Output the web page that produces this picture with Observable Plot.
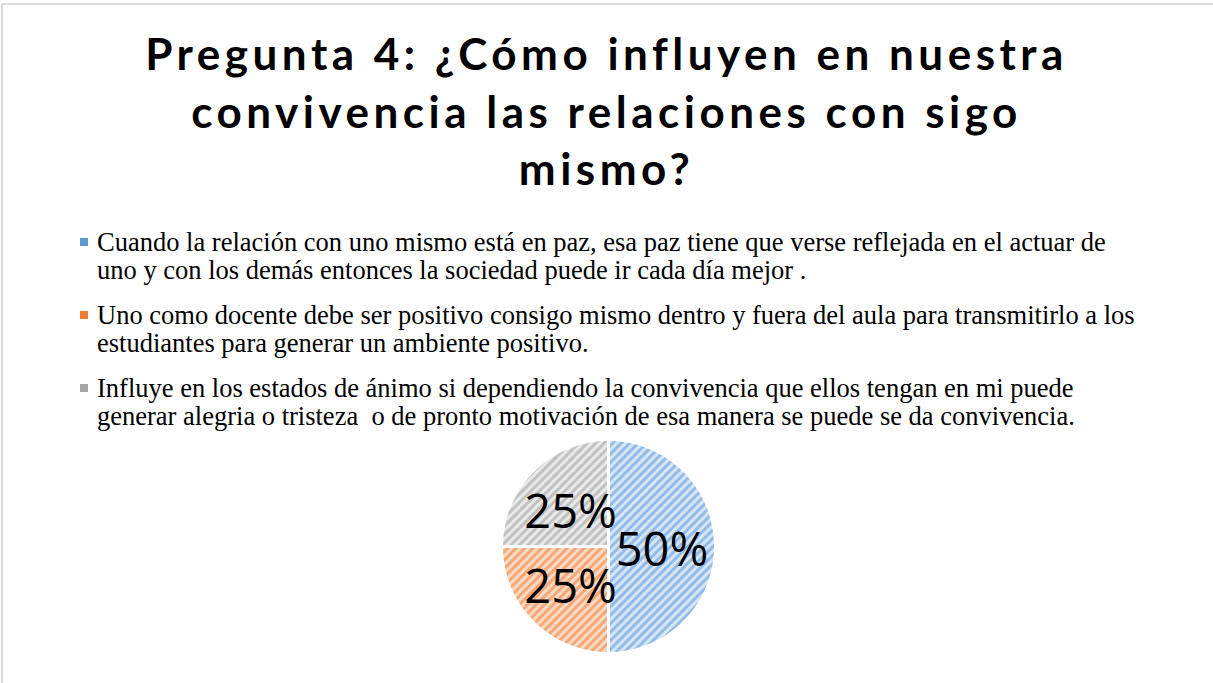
<!DOCTYPE html>
<html>
<head>
<meta charset="utf-8">
<script src="https://cdn.jsdelivr.net/npm/d3@7"></script>
<script src="https://cdn.jsdelivr.net/npm/@observablehq/plot@0.6"></script>
<style>
  html, body { margin: 0; padding: 0; background: #fff; }
  #page { position: relative; width: 1213px; height: 683px; overflow: hidden; }
  #frame { position: absolute; left: 1px; top: 3px; right: 0; bottom: 0; border-left: 2px solid #dcdcdc; border-top: 2px solid #dcdcdc; }
  #title { position: absolute; left: 0; width: 1213px; top: 25px; text-align: center;
    font-family: Lato, "Open Sans", sans-serif; font-weight: 700; font-size: 44px; line-height: 57.5px; letter-spacing: 4.5px; color: #000; }
  .leg { position: absolute; left: 80px; font-family: "Liberation Serif", "Times New Roman", serif; font-size: 26.5px; line-height: 28px; color: #000; }
  .leg .sw { position: absolute; left: 0; top: 10px; width: 8px; height: 8px; }
  .leg .tx { position: absolute; left: 17px; white-space: nowrap; }
  #chart { position: absolute; left: 498px; top: 436px; }
</style>
</head>
<body>
<div id="page">
  <div id="frame"></div>
  <div id="title"></div>
  <div id="legend"></div>
  <div id="chart"></div>
</div>
<script>
const titleLines = ["Pregunta 4: ¿Cómo influyen en nuestra", "convivencia las relaciones con sigo", "mismo?"];
const categories = [
  ["Cuando la relación con uno mismo está en paz, esa paz tiene que verse reflejada en el actuar de", "uno y con los demás entonces la sociedad puede ir cada día mejor ."],
  ["Uno como docente debe ser positivo consigo mismo dentro y fuera del aula para transmitirlo a los", "estudiantes para generar un ambiente positivo."],
  ["Influye en los estados de ánimo si dependiendo la convivencia que ellos tengan en mi puede", "generar alegria o tristeza  o de pronto motivación de esa manera se puede se da convivencia."]
];
const values = [50, 25, 25];
const labels = ["50%", "25%", "25%"];
const colors = ["#5b9bd5", "#ed7d31", "#a5a5a5"];
const stripeBg = ["#d6e6f6", "#fbd9c2", "#e9e9e9"];
const stripeFg = ["#93bde8", "#f2a878", "#c2c2c2"];

// title
document.getElementById("title").innerHTML = titleLines.map(l => l.replace(/  /g, " &nbsp;")).join("<br>");

// legend
const legTops = [228, 301, 374];
const legend = document.getElementById("legend");
categories.forEach((lines, i) => {
  const d = document.createElement("div");
  d.className = "leg";
  d.style.top = legTops[i] + "px";
  d.innerHTML = `<div class="sw" style="background:${colors[i]}"></div><div class="tx">${lines.map(l => l.replace(/  /g, " &nbsp;")).join("<br>")}</div>`;
  legend.appendChild(d);
});

// pie geometry from the values
const pie = d3.pie().sort(null).value(d => d.value)(values.map((v, i) => ({value: v, i})));
const toXY = (a, r) => [r * Math.sin(a), r * Math.cos(a)];
const slices = pie.map(p => {
  const n = Math.max(8, Math.ceil((p.endAngle - p.startAngle) / 0.02));
  const ring = [[0, 0]];
  for (let k = 0; k <= n; k++) ring.push(toXY(p.startAngle + (p.endAngle - p.startAngle) * k / n, 1));
  ring.push([0, 0]);
  return {type: "Feature", properties: {i: p.data.i}, geometry: {type: "Polygon", coordinates: [ring]}};
});
const labelData = pie.map(p => {
  const a = (p.startAngle + p.endAngle) / 2;
  const [x, y] = toXY(a, 0.5);
  return {x, y, label: labels[p.data.i]};
});
const outline = {type: "Polygon", coordinates: [[[-1,-1],[1,-1],[1,1],[-1,1],[-1,-1]]]};

const plot = Plot.plot({
  width: 220, height: 220, margin: 0, inset: 3,
  projection: {type: "reflect-y", domain: outline},
  marks: [
    Plot.geo(slices, {fill: d => `url(#stripe${d.properties.i})`, stroke: "white", strokeWidth: 3}),
    Plot.text(labelData, {x: "x", y: "y", text: "label", fontSize: 47, fill: "black",
      fontFamily: "'Open Sans', sans-serif", dy: 4})
  ]
});
// stripe patterns
const ns = "http://www.w3.org/2000/svg";
const defs = document.createElementNS(ns, "defs");
stripeBg.forEach((bg, i) => {
  const pat = document.createElementNS(ns, "pattern");
  pat.setAttribute("id", "stripe" + i);
  pat.setAttribute("patternUnits", "userSpaceOnUse");
  pat.setAttribute("width", 6);
  pat.setAttribute("height", 6);
  pat.setAttribute("patternTransform", "rotate(45)");
  pat.innerHTML = `<rect width="6" height="6" fill="${bg}"/><rect width="3" height="6" fill="${stripeFg[i]}"/>`;
  defs.appendChild(pat);
});
plot.insertBefore(defs, plot.firstChild);
document.getElementById("chart").appendChild(plot);
</script>
</body>
</html>
